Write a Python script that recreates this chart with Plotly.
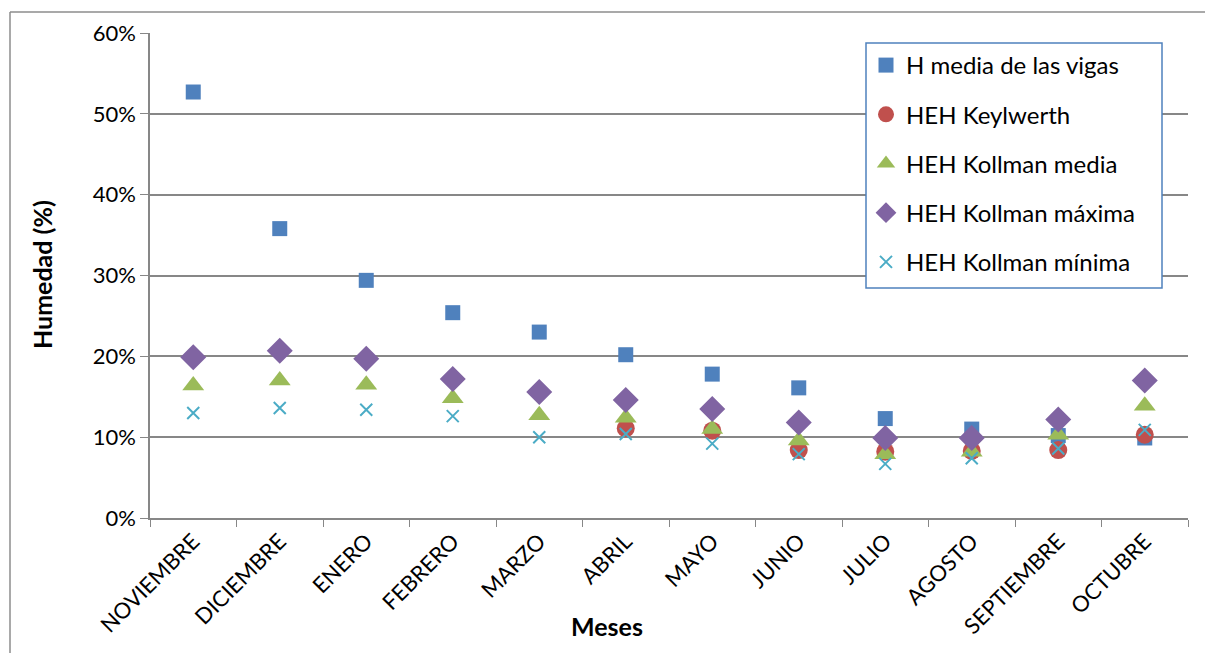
import plotly.graph_objects as go

meses = ["NOVIEMBRE", "DICIEMBRE", "ENERO", "FEBRERO", "MARZO", "ABRIL",
         "MAYO", "JUNIO", "JULIO", "AGOSTO", "SEPTIEMBRE", "OCTUBRE"]

h_media_vigas = [0.527, 0.358, 0.294, 0.254, 0.230, 0.202, 0.178, 0.161, 0.123, 0.110, 0.102, 0.099]
heh_keylwerth = [None, None, None, None, None, 0.111, 0.108, 0.084, 0.082, 0.083, 0.084, 0.103]
heh_kollman_media = [0.164, 0.170, 0.165, 0.148, 0.127, 0.124, 0.110, 0.096, 0.079, 0.082, 0.103, 0.139]
heh_kollman_maxima = [0.199, 0.207, 0.197, 0.172, 0.156, 0.146, 0.135, 0.118, 0.099, 0.099, 0.122, 0.170]
heh_kollman_minima = [0.130, 0.136, 0.134, 0.126, 0.100, 0.104, 0.092, 0.079, 0.067, 0.074, 0.086, 0.109]

FONT = "Lato, 'Open Sans', sans-serif"
GRID = "#878787"

# screen geometry (page body has an 8px margin)
O = 8
SW, SH = 1213, 653
L, R, T, B = 150, 1188, 33, 518
W, H = SW - O, SH - O
def px(x):
    return (x - L) / (R - L)
def py(y):
    return (B - y) / (B - T)

series = [
    ("H media de las vigas", h_media_vigas, "square", "#4F81BD", 15, None),
    ("HEH Keylwerth", heh_keylwerth, "circle", "#C0504D", 18, None),
    ("HEH Kollman media", heh_kollman_media, "triangle-up", "#9BBB59", 19, None),
    ("HEH Kollman máxima", heh_kollman_maxima, "diamond", "#8064A2", 20, None),
    ("HEH Kollman mínima", heh_kollman_minima, "x-thin", "#4BACC6", 12, 2),
]

fig = go.Figure()
for i, (name, vals, sym, col, size, lw) in enumerate(series):
    marker = dict(symbol=sym, color=col, size=size)
    if lw:
        marker["line"] = dict(color=col, width=lw)
    else:
        marker["line"] = dict(width=0)
    fig.add_trace(go.Scatter(x=meses, y=vals, mode="markers", name=name,
                             marker=marker, legendgroup=f"g{i}"))

fig.update_layout(
    width=W, height=H,
    margin=dict(l=L - O, r=W - (R - O), t=T - O, b=H - (B - O)),
    paper_bgcolor="white", plot_bgcolor="white",
    font=dict(family=FONT, size=22, color="black"),
    showlegend=True,
    legend=dict(x=px(866), y=py(43), xanchor="left", yanchor="top",
                borderwidth=0, bgcolor="rgba(255,255,255,0)",
                font=dict(size=24), tracegroupgap=15, traceorder="grouped",
                itemwidth=30),
    xaxis=dict(type="category", range=[-0.5, 11.5], tickangle=-45,
               tickson="boundaries", ticks="outside", ticklen=7, tickcolor=GRID,
               showline=True, linecolor=GRID, linewidth=1.5, showgrid=False,
               tickfont=dict(size=22)),
    yaxis=dict(range=[0, 0.6], dtick=0.1, tickformat=".0%", ticks="outside",
               ticklen=8, tickcolor=GRID, showline=True, linecolor=GRID, linewidth=1.5,
               showgrid=True, gridcolor=GRID, gridwidth=1.5, zeroline=False,
               tickfont=dict(size=22)),
    annotations=[
        dict(text="<b>Meses</b>", x=px(607), y=py(626), xref="paper", yref="paper",
             showarrow=False, font=dict(size=25), xanchor="center", yanchor="middle"),
        dict(text="<b>Humedad (%)</b>", x=px(42), y=py(275), xref="paper", yref="paper",
             showarrow=False, font=dict(size=25), textangle=-90,
             xanchor="center", yanchor="middle"),
    ],
    shapes=[
        dict(type="line", xref="paper", yref="paper", x0=px(10), x1=px(1213),
             y0=py(12), y1=py(12), line=dict(color="#8c8c8c", width=1.5)),
        dict(type="line", xref="paper", yref="paper", x0=px(10), x1=px(10),
             y0=py(12), y1=py(653), line=dict(color="#8c8c8c", width=1.5)),
        dict(type="rect", xref="paper", yref="paper", x0=px(866), x1=px(1162),
             y0=py(288), y1=py(43), fillcolor="white", layer="above",
             line=dict(color="#4F81BD", width=1.5)),
    ],
)

fig.write_html("out.html")
